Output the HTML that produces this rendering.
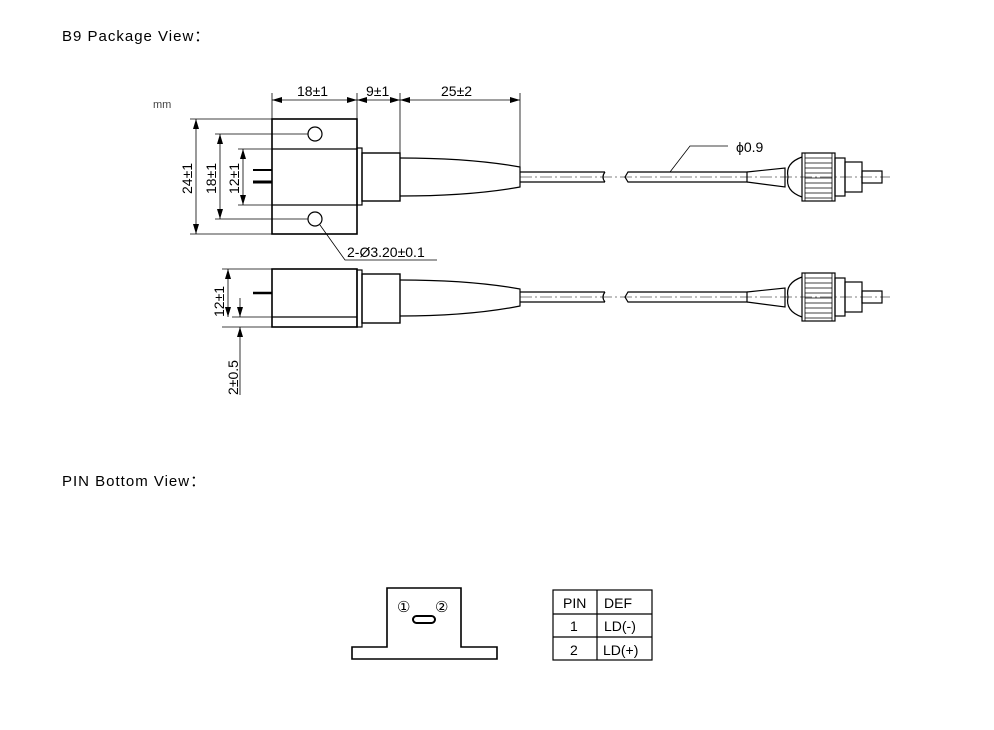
<!DOCTYPE html>
<html><head><style>
body{margin:0;background:#fff;width:994px;height:730px;overflow:hidden}
.t{position:absolute;font-family:"Liberation Sans","Noto Sans CJK SC",sans-serif;font-size:15px;letter-spacing:1px;color:#000}
</style></head><body>
<div class="t" style="left:62px;top:25px">B9 Package View：</div>
<div class="t" style="left:62px;top:470px">PIN Bottom View：</div>
<svg width="994" height="730" style="position:absolute;left:0;top:0" font-family="Liberation Sans, sans-serif">
<defs><marker id="a" markerWidth="10" markerHeight="6" refX="10" refY="3" orient="auto-start-reverse" markerUnits="userSpaceOnUse"><path d="M0,0L10,3L0,6z" fill="#000"/></marker></defs>
<g stroke="#000" fill="none" stroke-width="1.2">
<!-- top view -->
<rect x="272" y="119" width="85" height="115" stroke-width="1.6"/>
<line x1="272" y1="149" x2="357" y2="149"/><line x1="272" y1="205" x2="357" y2="205"/>
<circle cx="315" cy="134" r="7"/><circle cx="315" cy="219" r="7"/>
<rect x="357" y="148" width="5" height="57"/>
<rect x="362" y="153" width="38" height="48" stroke-width="1.4"/>
<path d="M400,158 Q470,158 520,167 L520,187 Q470,196 400,196"/>
<line x1="520" y1="172" x2="605" y2="172"/><line x1="520" y1="182" x2="605" y2="182"/>
<path d="M605,172 q-4,5 0,10"/>
<line x1="253" y1="170" x2="272" y2="170" stroke-width="2"/><line x1="253" y1="182" x2="272" y2="182" stroke-width="3"/>
<!-- top dims -->
<line x1="272" y1="93" x2="272" y2="119" stroke-width="0.8"/><line x1="357" y1="93" x2="357" y2="119" stroke-width="0.8"/>
<line x1="400" y1="93" x2="400" y2="153" stroke-width="0.8"/><line x1="520" y1="93" x2="520" y2="167" stroke-width="0.8"/>
<line x1="272" y1="100" x2="357" y2="100" stroke-width="0.8" marker-start="url(#a)" marker-end="url(#a)"/>
<line x1="357" y1="100" x2="400" y2="100" stroke-width="0.8" marker-start="url(#a)" marker-end="url(#a)"/>
<line x1="400" y1="100" x2="520" y2="100" stroke-width="0.8" marker-start="url(#a)" marker-end="url(#a)"/>
<!-- left dims -->
<line x1="190" y1="119" x2="272" y2="119" stroke-width="0.8"/><line x1="190" y1="234" x2="272" y2="234" stroke-width="0.8"/>
<line x1="196" y1="119" x2="196" y2="234" stroke-width="0.8" marker-start="url(#a)" marker-end="url(#a)"/>
<line x1="215" y1="134" x2="308" y2="134" stroke-width="0.8"/><line x1="215" y1="219" x2="308" y2="219" stroke-width="0.8"/>
<line x1="220" y1="134" x2="220" y2="219" stroke-width="0.8" marker-start="url(#a)" marker-end="url(#a)"/>
<line x1="238" y1="149" x2="272" y2="149" stroke-width="0.8"/><line x1="238" y1="205" x2="272" y2="205" stroke-width="0.8"/>
<line x1="243" y1="149" x2="243" y2="205" stroke-width="0.8" marker-start="url(#a)" marker-end="url(#a)"/>
<polyline points="320,225 345,260 437,260" stroke-width="0.8"/>
<!-- side view -->
<rect x="272" y="269" width="85" height="58" stroke-width="1.6"/>
<line x1="272" y1="317" x2="357" y2="317"/>
<rect x="357" y="270" width="5" height="57"/>
<rect x="362" y="274" width="38" height="49" stroke-width="1.4"/>
<path d="M400,280 Q470,280 520,289 L520,306 Q470,316 400,316"/>
<line x1="520" y1="292" x2="605" y2="292"/><line x1="520" y1="302" x2="605" y2="302"/>
<path d="M605,292 q-4,5 0,10"/>
<line x1="253" y1="293" x2="272" y2="293" stroke-width="2.5"/>
<line x1="222" y1="269" x2="272" y2="269" stroke-width="0.8"/><line x1="232" y1="317" x2="272" y2="317" stroke-width="0.8"/>
<line x1="222" y1="327" x2="272" y2="327" stroke-width="0.8"/>
<line x1="228" y1="269" x2="228" y2="317" stroke-width="0.8" marker-start="url(#a)" marker-end="url(#a)"/>
<line x1="240" y1="298" x2="240" y2="317" stroke-width="0.8" marker-end="url(#a)"/>
<line x1="240" y1="395" x2="240" y2="327" stroke-width="0.8" marker-end="url(#a)"/>
<!-- right fibers & connectors -->
<g id="c">
<path d="M625,177 l3,-5 L747,172 L747,182 L628,182 z"/>
<path d="M747,172 L785,168 L785,187 L747,182"/>
<path d="M802,157 Q785,163 788,177 Q785,191 802,197"/>
<rect x="802" y="153" width="33" height="48"/>
<g stroke-width="0.8"><line x1="805" y1="153" x2="805" y2="201"/><line x1="832" y1="153" x2="832" y2="201"/>
<line x1="805" y1="158" x2="832" y2="158"/><line x1="805" y1="163" x2="832" y2="163"/><line x1="805" y1="168" x2="832" y2="168"/><line x1="805" y1="173" x2="832" y2="173"/><line x1="805" y1="178" x2="832" y2="178"/><line x1="805" y1="183" x2="832" y2="183"/><line x1="805" y1="188" x2="832" y2="188"/><line x1="805" y1="193" x2="832" y2="193"/><line x1="805" y1="198" x2="832" y2="198"/></g>
<rect x="835" y="158" width="10" height="38"/>
<rect x="845" y="162" width="17" height="30"/>
<rect x="862" y="171" width="20" height="12"/>
<line x1="520" y1="177" x2="890" y2="177" stroke-width="0.6" stroke-dasharray="12,3,2,3"/>
</g>
<use href="#c" y="120"/>
<polyline points="670,172 690,146 728,146" stroke-width="0.8"/>
<!-- bottom view -->
<path d="M352,647 H387 V588 H461 V647 H497 V659 H352 Z" stroke-width="1.6"/>
<rect x="413" y="616" width="22" height="7" rx="3.5" stroke-width="2"/>
<!-- table -->
<rect x="553" y="590" width="99" height="70"/>
<line x1="553" y1="614" x2="652" y2="614"/><line x1="553" y1="637" x2="652" y2="637"/>
<line x1="597" y1="590" x2="597" y2="660"/>
</g>
<g font-size="14" fill="#000">
<text x="297" y="96">18±1</text><text x="366" y="96">9±1</text><text x="441" y="96">25±2</text>
<text x="153" y="108" font-size="11" fill="#444">mm</text>
<text transform="translate(192,194) rotate(-90)">24±1</text>
<text transform="translate(216,194) rotate(-90)">18±1</text>
<text transform="translate(239,194) rotate(-90)">12±1</text>
<text x="347" y="257">2-Ø3.20±0.1</text>
<text transform="translate(224,317) rotate(-90)">12±1</text>
<text transform="translate(238,395) rotate(-90)">2±0.5</text>
<text x="736" y="152">ϕ0.9</text>
<text x="397" y="612" font-size="15">①</text><text x="435" y="612" font-size="15">②</text>
<text x="563" y="608">PIN</text><text x="604" y="608">DEF</text>
<text x="570" y="631">1</text><text x="604" y="631">LD(-)</text>
<text x="570" y="655">2</text><text x="603" y="655">LD(+)</text>
</g>
</svg>
</body></html>
